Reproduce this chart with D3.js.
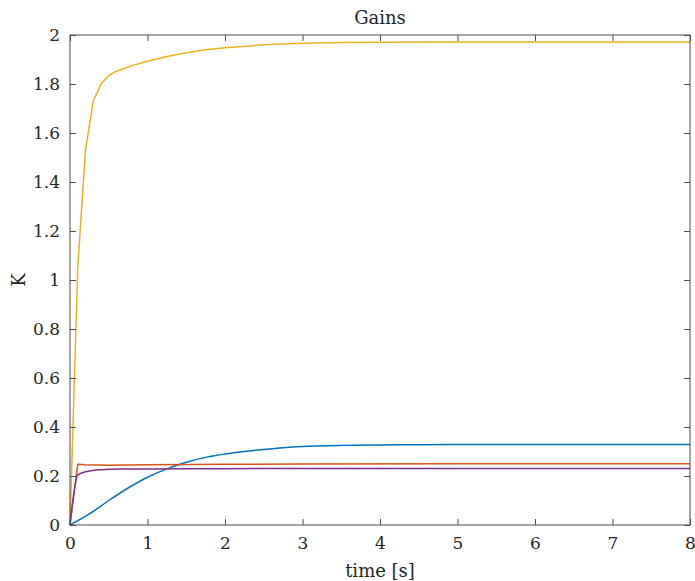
<!DOCTYPE html>
<html><head><meta charset="utf-8">
<script src="https://cdn.jsdelivr.net/npm/d3@7"></script>
<style>body{margin:0;background:#fff}svg{display:block}</style>
</head><body><svg id="c" width="695" height="581"></svg>
<script>
const xTicks = [0,1,2,3,4,5,6,7,8];
const yTicks = [0,0.2,0.4,0.6,0.8,1,1.2,1.4,1.6,1.8,2];
const yTickLabels = ["0","0.2","0.4","0.6","0.8","1","1.2","1.4","1.6","1.8","2"];

const tBlue  = [0,0.25,0.5,0.75,1,1.25,1.5,1.75,2,2.25,2.5,2.75,3,3.5,4,4.5,5,6,7,8];
const kBlue  = [0,0.045,0.1,0.151,0.195,0.229,0.256,0.276,0.290,0.300,0.308,0.315,0.320,0.325,0.327,0.328,0.329,0.329,0.329,0.329];
const tRed   = [0,0.1,0.2,0.5,1,2,3,5,8];
const kRed   = [0,0.248,0.246,0.244,0.246,0.248,0.249,0.25,0.25];
const tYel   = [0,0.1,0.2,0.3,0.4,0.5,0.6,0.8,1,1.25,1.5,1.75,2,2.5,3,3.5,4,5,6,8];
const kYel   = [0,1.05,1.53,1.73,1.80,1.835,1.852,1.875,1.893,1.912,1.928,1.940,1.948,1.960,1.966,1.969,1.970,1.971,1.971,1.971];
const tPur   = [0,0.1,0.2,0.3,0.4,0.5,0.7,1,2,4,8];
const kPur   = [0,0.204,0.217,0.223,0.226,0.228,0.229,0.229,0.230,0.231,0.231];

const series = [
  {t:tBlue,k:kBlue,c:"#0072BD",curve:d3.curveMonotoneX},
  {t:tRed,k:kRed,c:"#D95319",curve:d3.curveLinear},
  {t:tYel,k:kYel,c:"#EDB120",curve:d3.curveLinear},
  {t:tPur,k:kPur,c:"#7E2F8E",curve:d3.curveMonotoneX}
];

const FONT="'DejaVu Serif'";
const L=70,R=690,T=35,B=525;
const svg=d3.select("#c");
const x=d3.scaleLinear().domain([0,8]).range([L,R]);
const y=d3.scaleLinear().domain([0,2]).range([B,T]);
const axCol="#4d4d4d", tl=6;

const g=svg.append("g");
series.forEach(s=>{
  const line=d3.line().x(d=>x(d[0])).y(d=>y(d[1])).curve(s.curve);
  g.append("path").attr("d",line(s.t.map((t,i)=>[t,s.k[i]])))
   .attr("fill","none").attr("stroke",s.c).attr("stroke-width",1.5).attr("stroke-linejoin","round");
});

svg.append("rect").attr("x",L).attr("y",T).attr("width",R-L).attr("height",B-T)
  .attr("fill","none").attr("stroke",axCol).attr("stroke-width",1);

const xa=svg.append("g").attr("transform",`translate(0,${B})`)
  .call(d3.axisBottom(x).tickValues(xTicks).tickSize(-tl).tickPadding(12).tickFormat(d3.format("d")));
const xt=svg.append("g").attr("transform",`translate(0,${T})`)
  .call(d3.axisTop(x).tickValues(xTicks).tickSize(-tl).tickFormat(""));
const ya=svg.append("g").attr("transform",`translate(${L},0)`)
  .call(d3.axisLeft(y).tickValues(yTicks).tickSize(-tl).tickPadding(10).tickFormat((d,i)=>yTickLabels[i]));
const yr=svg.append("g").attr("transform",`translate(${R},0)`)
  .call(d3.axisRight(y).tickValues(yTicks).tickSize(-tl).tickFormat(""));
[xa,xt,ya,yr].forEach(a=>{
  a.attr("font-family",null).attr("font-size",null);
  a.select(".domain").remove();
  a.selectAll("line").attr("stroke",axCol);
  a.selectAll("text").style("font-family",FONT).style("font-size","17px").attr("fill","#262626");
});
xa.selectAll("text").attr("dy","0.71em");

function label(xp,yp,txt,rot){
  const t=svg.append("text").attr("text-anchor","middle").style("font-family",FONT).style("font-size","18px").attr("fill","#262626").text(txt);
  if(rot) t.attr("transform",`translate(${xp},${yp}) rotate(-90)`); else t.attr("x",xp).attr("y",yp);
}
label((L+R)/2,24,"Gains");
label((L+R)/2,577,"time [s]");
label(25,(T+B)/2,"K",true);
</script></body></html>
